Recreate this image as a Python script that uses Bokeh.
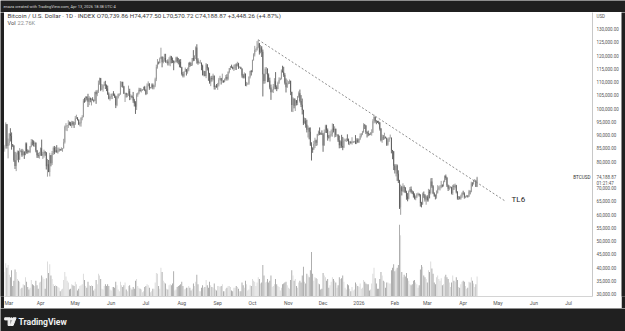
import numpy as np
from bokeh.plotting import figure
from bokeh.models import Range1d, FixedTicker, NumeralTickFormatter, ColumnDataSource
from bokeh.layouts import column, row
from bokeh.embed import file_html
from bokeh.resources import INLINE
from bokeh.core.properties import value

FONT = "Roboto"
DARK = "#202020"

# ---------------- data (daily BTC/USD, 2025-03-01 .. 2026-04-13), prices in thousands USD
first_open_k = 84.4
close_k = [
    86.0, 94.3, 86.1, 87.2, 90.6, 89.9, 86.7, 86.2, 80.7, 78.5, 82.9, 83.7, 81.1, 83.9, 84.3, 82.6, 84.0, 82.7, 86.8, 84.2, 84.0, 83.8, 86.0, 87.5, 87.4, 86.9, 87.2, 84.4, 82.6, 82.3, 82.5,
    85.2, 82.5, 83.1, 83.8, 83.5, 78.4, 79.2, 76.3, 82.6, 79.6, 83.4, 85.3, 83.7, 84.5, 83.6, 84.0, 84.9, 84.5, 85.1, 85.2, 87.5, 93.4, 93.7, 93.9, 94.7, 94.6, 93.8, 95.0, 94.3, 94.2,
    96.5, 96.9, 95.9, 94.3, 94.7, 96.8, 97.0, 103.2, 102.9, 104.6, 104.1, 102.8, 104.2, 103.5, 103.7, 103.5, 103.2, 106.5, 105.6, 106.8, 109.7, 111.7, 107.3, 107.8, 109.0, 109.4, 108.9, 107.8, 105.6, 103.9, 104.6,
    105.7, 105.8, 105.4, 104.7, 101.5, 104.3, 105.6, 105.7, 110.2, 110.3, 108.6, 105.9, 106.0, 105.4, 105.6, 106.8, 104.6, 104.9, 104.6, 103.3, 102.1, 100.9, 105.4, 106.0, 107.3, 106.9, 107.1, 107.3, 108.4, 107.1,
    105.7, 108.8, 109.6, 108.0, 108.2, 109.2, 108.3, 108.9, 111.3, 115.9, 117.5, 117.4, 119.1, 119.8, 117.7, 118.7, 119.3, 117.9, 118.0, 117.3, 117.4, 119.9, 118.6, 118.3, 117.6, 117.9, 119.4, 118.0, 117.9, 117.8, 115.8,
    113.3, 112.6, 114.2, 115.1, 114.1, 115.0, 117.5, 116.7, 116.5, 119.3, 118.7, 120.2, 123.3, 118.4, 117.4, 117.5, 117.5, 116.3, 112.9, 114.3, 112.5, 116.9, 115.4, 113.5, 110.1, 111.8, 111.3, 112.6, 108.4, 108.8, 108.3,
    109.3, 111.2, 111.7, 110.7, 110.7, 110.2, 111.2, 112.1, 111.5, 114.0, 115.5, 116.1, 115.9, 115.3, 115.4, 116.8, 116.5, 117.1, 115.7, 115.7, 115.3, 112.7, 112.0, 113.3, 109.0, 109.7, 109.7, 112.2, 114.4, 114.0,
    118.6, 120.6, 122.3, 122.4, 123.5, 124.8, 121.5, 123.3, 121.7, 113.2, 110.6, 115.2, 115.3, 113.0, 110.8, 108.2, 106.4, 107.2, 108.6, 110.5, 108.4, 107.6, 110.0, 111.0, 111.6, 114.5, 114.1, 112.9, 110.0, 108.3, 109.6,
    110.1, 110.6, 106.5, 101.6, 103.9, 101.3, 103.4, 102.3, 104.7, 106.0, 103.1, 101.7, 99.7, 94.6, 95.6, 94.2, 92.2, 92.9, 91.5, 86.6, 85.1, 84.7, 86.8, 88.3, 87.3, 90.5, 91.3, 90.9, 90.8, 90.4,
    86.3, 91.3, 93.5, 92.1, 89.4, 89.3, 90.4, 90.6, 92.7, 92.0, 92.5, 90.3, 90.3, 88.2, 86.4, 87.8, 86.1, 85.5, 88.1, 88.4, 88.6, 88.5, 87.5, 87.6, 87.2, 87.3, 87.8, 87.8, 87.1, 88.4, 87.5,
    88.7, 89.9, 90.6, 91.4, 93.9, 93.7, 91.3, 91.0, 90.5, 90.4, 90.8, 91.2, 95.4, 97.0, 95.6, 95.5, 95.1, 95.0, 92.6, 88.3, 89.5, 89.4, 89.5, 89.2, 86.6, 88.2, 89.2, 89.2, 84.5, 84.1, 78.6,
    76.9, 78.7, 75.6, 73.0, 62.9, 70.5, 69.0, 70.5, 70.2, 68.8, 67.0, 66.2, 68.9, 69.8, 68.8, 68.6, 67.5, 66.4, 66.9, 67.9, 68.0, 67.6, 64.6, 64.0, 67.9, 67.5, 65.9, 66.9,
    65.7, 68.8, 68.3, 72.7, 70.9, 68.2, 67.3, 67.1, 68.4, 69.9, 70.4, 70.5, 71.3, 70.9, 72.6, 74.8, 74.0, 71.2, 69.9, 70.5, 70.5, 68.2, 70.9, 70.6, 71.3, 68.8, 66.3, 66.6, 66.3, 67.0, 68.2,
    68.1, 66.9, 66.9, 67.3, 67.0, 68.9, 68.8, 71.9, 71.8, 72.9, 73.0, 70.74, 74.18887,
]
high_k = [
    86.5, 95.0, 94.4, 88.9, 91.0, 92.8, 91.2, 86.8, 86.4, 83.9, 83.6, 84.4, 84.3, 85.3, 84.7, 85.0, 84.7, 84.0, 87.4, 87.4, 84.8, 84.5, 86.1, 88.7, 88.5, 88.2, 87.8, 87.5, 84.6, 83.5, 83.9,
    85.5, 88.5, 83.9, 84.7, 84.2, 83.8, 81.2, 80.8, 83.5, 82.7, 84.2, 85.9, 86.1, 85.8, 86.4, 85.5, 85.5, 85.0, 85.6, 85.3, 88.8, 93.8, 94.7, 94.0, 95.8, 95.3, 95.2, 95.6, 95.5, 95.2,
    97.4, 97.9, 96.9, 96.2, 95.2, 96.9, 97.7, 103.8, 104.3, 104.9, 104.9, 105.8, 104.9, 104.4, 104.1, 104.5, 103.7, 106.6, 107.1, 107.3, 110.8, 111.9, 111.8, 109.5, 109.3, 110.4, 110.7, 109.3, 108.9, 106.3, 104.9,
    105.9, 105.9, 106.8, 105.9, 105.1, 105.0, 105.9, 106.0, 110.6, 110.4, 110.4, 108.8, 106.2, 106.2, 106.0, 108.9, 107.7, 105.6, 105.2, 106.5, 103.9, 103.0, 106.0, 106.3, 108.1, 108.0, 107.8, 107.6, 108.5, 108.8,
    107.5, 109.7, 110.5, 109.8, 108.4, 109.7, 109.7, 109.2, 111.9, 116.8, 118.9, 118.0, 119.5, 123.2, 119.9, 119.8, 120.9, 120.9, 118.5, 118.8, 119.6, 120.2, 120.1, 119.5, 118.4, 118.3, 119.8, 119.8, 119.3, 118.8, 118.9,
    116.0, 114.0, 114.3, 115.7, 115.1, 115.7, 117.6, 117.9, 117.6, 119.3, 122.3, 120.3, 123.7, 124.5, 119.2, 117.9, 118.6, 117.6, 116.8, 114.6, 114.4, 117.4, 117.0, 115.8, 113.7, 112.4, 112.6, 113.4, 112.7, 108.9, 109.5,
    109.9, 111.8, 112.6, 111.8, 113.4, 110.9, 111.6, 112.9, 113.2, 114.3, 115.5, 116.3, 116.8, 116.1, 116.8, 117.0, 117.3, 117.9, 117.5, 116.2, 116.0, 115.4, 113.3, 113.9, 113.5, 110.3, 110.0, 112.4, 114.5, 114.8,
    118.7, 121.1, 123.9, 122.9, 125.7, 126.2, 125.0, 124.2, 123.8, 122.5, 113.4, 115.8, 115.9, 115.4, 113.5, 111.9, 109.3, 107.5, 109.5, 111.7, 114.0, 109.0, 110.4, 112.0, 111.9, 115.0, 116.4, 116.0, 113.6, 111.6, 111.1,
    110.6, 111.2, 110.8, 106.6, 104.5, 104.1, 104.0, 103.4, 105.0, 106.7, 107.4, 105.3, 104.0, 99.8, 96.8, 96.6, 96.0, 93.8, 93.1, 93.1, 87.5, 85.6, 88.0, 89.2, 88.5, 90.7, 91.9, 93.1, 91.2, 92.0,
    91.0, 92.3, 94.1, 94.1, 92.7, 90.2, 91.7, 92.3, 94.6, 94.4, 93.5, 92.7, 90.6, 90.5, 90.0, 88.2, 90.3, 89.5, 89.0, 88.6, 89.0, 90.5, 88.9, 87.9, 88.0, 89.4, 88.0, 88.0, 90.2, 89.0, 89.0,
    88.9, 90.8, 91.0, 91.8, 94.7, 94.4, 94.0, 91.6, 91.9, 90.8, 91.3, 92.4, 96.2, 97.9, 97.2, 95.8, 95.6, 95.6, 95.1, 92.9, 90.4, 90.2, 91.1, 89.7, 89.2, 88.8, 89.4, 90.4, 89.3, 84.6, 84.1,
    79.2, 79.3, 79.1, 76.9, 73.3, 71.5, 71.0, 72.0, 71.2, 70.6, 69.2, 68.3, 69.3, 70.6, 70.8, 69.3, 69.0, 68.2, 67.4, 68.3, 68.5, 68.2, 67.9, 65.0, 68.5, 68.9, 67.9, 67.3,
    67.5, 69.9, 69.6, 73.9, 74.0, 71.3, 68.6, 67.8, 69.3, 71.3, 71.0, 71.3, 72.9, 71.6, 73.0, 75.0, 75.3, 74.4, 71.5, 71.2, 70.9, 70.7, 71.4, 71.6, 71.9, 71.4, 69.0, 67.2, 67.1, 67.7, 68.6,
    69.2, 68.6, 67.3, 67.6, 67.5, 69.5, 69.3, 72.6, 72.4, 73.3, 73.6, 73.2, 74.4775,
]
low_k = [
    83.9, 85.1, 85.1, 81.4, 86.3, 87.8, 84.7, 85.7, 80.1, 77.4, 76.6, 80.7, 79.9, 80.8, 83.7, 82.0, 82.5, 81.2, 82.6, 83.2, 83.2, 83.6, 83.4, 85.6, 86.3, 85.9, 85.8, 83.7, 81.6, 81.6, 81.3,
    82.4, 82.3, 81.2, 81.7, 82.4, 77.2, 74.5, 76.2, 74.6, 78.4, 78.9, 82.7, 83.0, 83.7, 83.6, 83.2, 83.9, 84.3, 84.3, 83.9, 85.1, 87.0, 91.9, 91.7, 92.9, 93.9, 93.6, 92.9, 93.8, 92.9,
    94.1, 96.3, 95.7, 94.0, 93.5, 93.4, 95.8, 96.9, 102.4, 102.8, 103.3, 100.8, 101.5, 102.6, 101.4, 103.2, 102.6, 103.1, 102.0, 104.9, 106.1, 109.2, 106.8, 107.3, 106.6, 108.7, 107.6, 106.8, 105.4, 103.7, 103.2,
    103.8, 103.8, 105.0, 104.2, 100.4, 101.1, 104.0, 104.9, 105.4, 108.3, 108.1, 105.7, 102.7, 104.4, 104.5, 105.0, 103.4, 103.6, 104.2, 102.4, 101.0, 98.2, 99.7, 104.7, 105.6, 106.6, 106.3, 106.9, 107.2, 106.8,
    105.3, 105.6, 108.6, 107.3, 107.8, 107.8, 107.5, 107.5, 108.3, 110.6, 115.3, 116.9, 117.3, 118.9, 115.8, 117.3, 117.9, 117.5, 117.3, 116.5, 116.5, 116.2, 117.3, 117.4, 114.7, 117.3, 117.8, 117.4, 116.9, 115.8, 115.6,
    112.7, 112.0, 112.0, 114.1, 112.7, 113.4, 114.3, 115.9, 116.3, 116.5, 118.1, 118.2, 118.9, 117.2, 116.8, 117.2, 117.2, 114.7, 112.7, 112.4, 112.4, 111.7, 114.6, 110.7, 109.6, 108.7, 110.4, 110.9, 107.4, 107.4, 108.1,
    107.3, 108.6, 110.9, 109.3, 110.0, 110.0, 110.2, 110.8, 110.8, 110.9, 113.5, 114.8, 115.5, 115.0, 114.4, 114.8, 114.8, 116.1, 115.2, 115.5, 115.1, 111.9, 111.6, 111.6, 108.7, 108.6, 109.2, 109.2, 111.6, 112.7,
    113.9, 118.3, 119.9, 121.6, 122.1, 123.0, 120.6, 121.1, 119.7, 104.8, 109.6, 109.7, 113.2, 110.2, 110.2, 107.5, 103.5, 106.4, 106.1, 107.5, 107.5, 106.8, 107.5, 109.5, 110.9, 111.2, 113.8, 112.2, 109.3, 106.3, 108.0,
    109.4, 109.5, 105.3, 99.0, 98.9, 100.3, 99.3, 101.4, 101.5, 104.3, 102.5, 100.8, 98.0, 94.0, 94.6, 93.0, 91.2, 89.3, 88.6, 86.1, 80.6, 83.5, 84.7, 85.3, 86.1, 86.3, 90.0, 90.2, 90.3, 90.3,
    83.9, 86.2, 91.0, 91.0, 88.1, 88.9, 87.8, 89.7, 89.6, 91.2, 89.3, 89.5, 89.8, 87.6, 85.2, 85.3, 85.4, 84.5, 85.3, 87.9, 87.6, 87.9, 86.6, 86.4, 86.9, 86.6, 87.2, 87.4, 86.8, 86.8, 87.3,
    87.2, 88.3, 89.3, 90.2, 91.1, 92.5, 90.6, 89.3, 89.8, 90.1, 90.2, 90.0, 91.0, 94.6, 94.9, 94.3, 94.8, 94.3, 91.9, 87.8, 87.3, 88.4, 88.6, 88.9, 86.1, 86.2, 87.6, 88.9, 83.3, 81.1, 77.0,
    75.7, 74.6, 72.9, 72.1, 62.3, 60.1, 67.4, 68.8, 68.5, 68.3, 65.8, 65.2, 65.9, 68.7, 68.2, 67.9, 66.6, 65.9, 65.6, 66.4, 67.4, 67.0, 63.2, 62.9, 63.9, 66.5, 65.1, 63.9,
    65.1, 65.1, 66.3, 67.8, 70.3, 67.9, 66.9, 65.9, 66.2, 68.1, 69.4, 69.3, 70.1, 70.5, 70.8, 72.4, 73.3, 70.6, 69.1, 69.4, 70.1, 67.8, 67.6, 69.5, 70.1, 68.2, 65.8, 65.7, 65.9, 65.8, 66.5,
    67.7, 66.2, 66.4, 66.7, 66.6, 66.9, 67.8, 68.6, 70.8, 71.5, 72.5, 70.6, 70.57072,
]
volume_k = [
    28, 38, 33, 36, 25, 22, 30, 12, 18, 31, 28, 20, 18, 17, 9, 10, 14, 13, 22, 17, 11, 8, 10, 19, 14, 13, 12, 18, 13, 9, 16,
    17, 24, 22, 20, 9, 21, 40, 27, 37, 24, 20, 14, 12, 13, 12, 11, 10, 6, 8, 9, 19, 28, 23, 18, 16, 8, 9, 14, 13, 12,
    17, 14, 7, 9, 12, 13, 14, 26, 19, 12, 10, 17, 13, 12, 13, 12, 7, 9, 19, 14, 26, 24, 20, 9, 8, 12, 14, 12, 14, 12, 8,
    7, 11, 11, 10, 17, 13, 8, 6, 17, 13, 11, 13, 16, 8, 6, 12, 13, 10, 8, 11, 9, 18, 20, 12, 10, 9, 8, 5, 6, 11,
    12, 14, 13, 10, 5, 6, 9, 9, 16, 27, 26, 12, 9, 33, 28, 18, 16, 15, 9, 8, 13, 14, 13, 15, 29, 7, 8, 11, 12, 13, 14,
    17, 12, 8, 9, 10, 10, 12, 10, 7, 9, 15, 12, 17, 25, 14, 6, 6, 10, 13, 10, 11, 19, 13, 10, 17, 13, 11, 10, 15, 8, 7,
    12, 12, 11, 12, 14, 6, 6, 9, 10, 12, 12, 11, 7, 6, 10, 10, 12, 11, 9, 6, 6, 16, 13, 10, 18, 14, 7, 8, 13, 12,
    20, 18, 17, 12, 16, 22, 20, 15, 16, 36, 24, 16, 17, 20, 16, 18, 24, 11, 12, 14, 20, 14, 12, 11, 7, 10, 14, 15, 16, 17, 13,
    10, 9, 19, 30, 24, 18, 20, 12, 10, 16, 18, 16, 24, 34, 17, 15, 26, 24, 22, 30, 51, 26, 18, 22, 21, 20, 15, 14, 8, 9,
    27, 24, 22, 18, 20, 10, 13, 17, 22, 20, 18, 16, 10, 13, 22, 20, 21, 24, 17, 10, 8, 14, 13, 9, 6, 11, 7, 8, 16, 14, 12,
    11, 15, 9, 10, 19, 17, 15, 14, 14, 7, 8, 15, 26, 33, 21, 15, 9, 9, 20, 28, 24, 18, 17, 10, 16, 16, 15, 15, 30, 33, 37,
    29, 31, 33, 36, 82, 70, 28, 22, 25, 23, 27, 21, 18, 14, 13, 14, 18, 19, 16, 14, 10, 13, 31, 36, 34, 24, 22, 20,
    16, 30, 28, 40, 32, 26, 16, 14, 22, 24, 20, 18, 21, 13, 14, 23, 25, 22, 20, 16, 11, 16, 24, 18, 17, 22, 19, 11, 10, 14, 17,
    18, 17, 12, 9, 10, 17, 16, 22, 18, 15, 11, 14, 22.76,
]

# month ticks (days since 2025-03-01)
month_days = [0, 31, 61, 92, 122, 153, 184, 214, 245, 275, 306, 337, 365, 396, 426, 457, 487]
month_labels = ["Mar", "Apr", "May", "Jun", "Jul", "Aug", "Sep", "Oct", "Nov", "Dec",
                "2026", "Feb", "Mar", "Apr", "May", "Jun", "Jul"]

price_ticks = [30000, 35000, 40000, 45000, 50000, 55000, 60000, 65000, 70000,
               80000, 85000, 90000, 95000, 100000, 105000, 110000, 115000, 120000, 125000, 130000]
currency_tick = 135000
last_price = 74188.87
countdown_tick = 71800
countdown_text = "01:21:47"

# trend line "TL6" (drawn from the October high)
trend_days = [219, 432.6]
trend_prices = [126200, 65200]
trend_label_day = 437.8
trend_label_price = 65900

header_text = ("Bitcoin / U.S. Dollar \u00b7 1D \u00b7 INDEX   O70,739.86  H74,477.50  "
               "L70,570.72  C74,188.87  +3,448.26 (+4.87%)")
vol_value_text = "22.76K"
top_text = "enaza created with TradingView.com, Apr 13, 2026 18:38 UTC-4"

n = len(close_k)
assert len(high_k) == n and len(low_k) == n and len(volume_k) == n, (n, len(high_k), len(low_k), len(volume_k))

close = np.array(close_k) * 1000.0
high = np.array(high_k) * 1000.0
low = np.array(low_k) * 1000.0
opn = np.concatenate([[first_open_k * 1000.0], close[:-1]])
opn[-1] = 70739.86
up = close >= opn
x = np.arange(n)

src = ColumnDataSource(dict(
    x=x, open=opn, close=close, high=high, low=low,
    top=np.maximum(opn, close), bottom=np.minimum(opn, close),
    color=np.where(up, "#959595", "#5c5c5c"),
    vol=np.array(volume_k, dtype=float),
    vcolor=np.where(up, "#d4d4d4", "#9c9c9c"),
))

# ---------------- main chart
W, H = 617, 296
BR, BB = 29, 11
FW, FH = W - BR, H - BB
X0, X1 = -0.1, -0.1 + FW / 1.158
Y0, Y1 = 29250, 136500


def dx(px):
    return X0 + px * (X1 - X0) / FW


def dy(py):
    return Y1 - py * (Y1 - Y0) / FH


p = figure(width=W, height=H, output_backend="svg", toolbar_location=None,
           x_range=Range1d(X0, X1), y_range=Range1d(Y0, Y1),
           y_axis_location="right",
           min_border_left=0, min_border_right=BR, min_border_top=0, min_border_bottom=BB,
           background_fill_color="white", border_fill_color="white",
           outline_line_color=None)
p.extra_y_ranges = {"vol": Range1d(0, 325)}
p.grid.visible = False

# volume
p.vbar(x="x", width=0.7, top="vol", bottom=0, y_range_name="vol", source=src,
       fill_color="vcolor", line_color=None)
# candles
p.segment(x0="x", y0="low", x1="x", y1="high", source=src, line_color="color", line_width=0.9)
p.vbar(x="x", width=0.7, top="top", bottom="bottom", source=src, fill_color="color", line_color=None)

# trend line
p.line(trend_days, trend_prices, line_color="#808080", line_width=0.9, line_dash="2 2")
p.text(x=[trend_label_day], y=[trend_label_price], text=["TL6"], text_font=value(FONT),
       text_font_size="8px", text_color="#262626", text_baseline="middle", text_align="left")

# header texts inside the pane
p.text(x=[dx(3)], y=[dy(3.6)], text=[header_text], text_font=value(FONT), text_font_size="6.2px",
       text_color="#3a3a3a", text_baseline="middle")
p.text(x=[dx(3)], y=[dy(10.6)], text=["Vol"], text_font=value(FONT), text_font_size="5.6px",
       text_color="#3a3a3a", text_baseline="middle")
p.text(x=[dx(13)], y=[dy(10.6)], text=[vol_value_text], text_font=value(FONT), text_font_size="5.6px",
       text_color="#8a8a8a", text_baseline="middle")
p.text(x=[dx(586)], y=[last_price], text=["BTCUSD"], text_font=value(FONT), text_font_size="4.6px",
       text_color="#333333", text_baseline="middle", text_align="right")

# x axis
xa = p.xaxis[0]
xa.ticker = FixedTicker(ticks=month_days, minor_ticks=[])
xa.major_label_overrides = {d: lab for d, lab in zip(month_days, month_labels)}
xa.major_tick_out = 0
xa.major_tick_in = 0
xa.minor_tick_out = 0
xa.minor_tick_in = 0
xa.major_label_standoff = 3
xa.major_label_text_font = FONT
xa.major_label_text_font_size = "5px"
xa.major_label_text_color = "#555555"
xa.axis_line_color = "#d4d4d4"

# y axis (price scale on the right)
ya = p.yaxis[0]
all_ticks = price_ticks + [currency_tick, last_price, countdown_tick]
ya.ticker = FixedTicker(ticks=all_ticks, minor_ticks=[])
ya.formatter = NumeralTickFormatter(format="0,0.00")
ya.major_label_overrides = {currency_tick: "USD", last_price: "74,188.87", countdown_tick: countdown_text}
ya.major_tick_out = 0
ya.major_tick_in = 0
ya.minor_tick_out = 0
ya.minor_tick_in = 0
ya.major_label_standoff = 4
ya.major_label_text_font = FONT
ya.major_label_text_font_size = "4.5px"
ya.major_label_text_color = "#555555"
ya.axis_line_color = "#c8c8c8"


def strip(w, h):
    s = figure(width=w, height=h, output_backend="svg", toolbar_location=None,
               x_range=Range1d(0, w), y_range=Range1d(h, 0),
               min_border=0, background_fill_color=DARK, border_fill_color=DARK,
               outline_line_color=None)
    s.axis.visible = False
    s.grid.visible = False
    return s


left = strip(4, H)
right = strip(4, H)
left.scatter([0], [0], size=0, alpha=0)
right.scatter([0], [0], size=0, alpha=0)

header = strip(625, 12)
header.text(x=[3], y=[6], text=[top_text], text_font=value(FONT), text_font_size="4.0px",
            text_color="#d8d8d8", text_baseline="middle")

footer = strip(625, 23)
# TradingView logo mark
footer.patch([4.2, 9.6, 9.6, 7.6, 7.6, 4.2], [9.3, 9.3, 17.0, 17.0, 11.4, 11.4], color="#f0f0f0")
footer.scatter([11.0], [10.4], size=2.4, color="#f0f0f0")
footer.patch([12.6, 15.6, 12.6, 9.8], [9.3, 9.3, 17.0, 17.0], color="#f0f0f0")
footer.text(x=[18], y=[13.2], text=["TradingView"], text_font=value(FONT), text_font_size="8.6px",
            text_font_style="bold", text_color="#f0f0f0", text_baseline="middle")

layout = column(header, row(left, p, right), footer)
open("out.html", "w").write(file_html(layout, INLINE))
